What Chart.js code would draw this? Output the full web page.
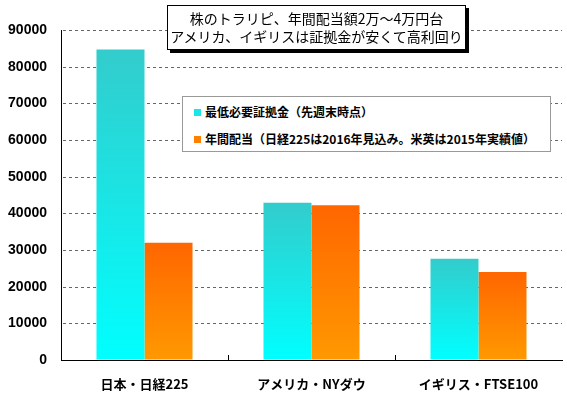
<!DOCTYPE html>
<html>
<head>
<meta charset="utf-8">
<script src="https://cdn.jsdelivr.net/npm/chart.js@4/dist/chart.umd.min.js"></script>
<style>
  html, body { margin: 0; padding: 0; background: #fff; }
  #wrap { position: relative; width: 567px; height: 399px; overflow: hidden; }
  #title {
    position: absolute; left: 167px; top: 5px; width: 297px; height: 40px;
    border: 1px solid #000; box-shadow: 3px 3px 0 #000; background: #fff;
    font-family: "Noto Sans CJK JP", sans-serif; font-size: 14px; line-height: 18px;
    color: #000; text-align: center; padding-top: 3px; box-sizing: content-box; white-space: nowrap;
  }
  #legend {
    position: absolute; left: 182px; top: 96px; width: 367px; height: 54px;
    border: 1px solid #999; background: #fff;
    font-family: "Noto Sans CJK JP", sans-serif; font-weight: bold; font-size: 12px; color: #000;
  }
  .item { position: absolute; left: 11px; height: 16px; line-height: 16px; white-space: nowrap; }
  .item i { display: inline-block; width: 7px; height: 7px; margin-right: 4px; vertical-align: 1px; }
</style>
</head>
<body>
<div id="wrap">
  <canvas id="c" width="567" height="399"></canvas>
  <div id="title"></div>
  <div id="legend"></div>
</div>
<script>
const categories = ['日本・日経225', 'アメリカ・NYダウ', 'イギリス・FTSE100'];
const marginValues = [84700, 42900, 27600];
const dividendValues = [32000, 42200, 24000];
const seriesLabels = ['最低必要証拠金（先週末時点）', '年間配当（日経225は2016年見込み。米英は2015年実績値）'];
const yTickValues = [0, 10000, 20000, 30000, 40000, 50000, 60000, 70000, 80000, 90000];
const titleLines = ['株のトラリピ、年間配当額2万～4万円台', 'アメリカ、イギリスは証拠金が安くて高利回り'];

const seriesTop = ['#33CCCC', '#FF6600'];
const seriesBottom = ['#00FFFF', '#FF9900'];
const seriesMarker = ['#1AE6E6', '#FF8000'];

document.getElementById('title').innerHTML = titleLines.map(t => '<div>' + t + '</div>').join('');
document.getElementById('legend').innerHTML = seriesLabels.map((t, i) =>
  '<div class="item" style="top:' + (i === 0 ? 7 : 34) + 'px"><i style="background:' + seriesMarker[i] + '"></i>' + t + '</div>'
).join('');

function gradFill(idx) {
  return function (ctx) {
    const chart = ctx.chart;
    const ys = chart.scales && chart.scales.y;
    if (!chart.chartArea || !ys || ctx.type !== 'data') return seriesMarker[idx];
    const top = ys.getPixelForValue(ctx.raw);
    const bot = ys.getPixelForValue(0);
    if (!isFinite(top) || !isFinite(bot) || bot - top < 1) return seriesMarker[idx];
    const g = chart.ctx.createLinearGradient(0, top, 0, bot);
    g.addColorStop(0, seriesTop[idx]);
    g.addColorStop(1, seriesBottom[idx]);
    return g;
  };
}

const dashedGrid = {
  id: 'dashedGrid',
  beforeDatasetsDraw(chart) {
    const ys = chart.scales.y, c = chart.ctx, a = chart.chartArea;
    c.save();
    c.fillStyle = '#666666';
    ys.ticks.forEach(t => {
      if (t.value === 0) return;
      const y = Math.round(ys.getPixelForValue(t.value));
      for (let x = Math.round(a.left) + 2; x < a.right; x += 6) {
        c.fillRect(x, y, Math.min(3, a.right - x), 1);
      }
    });
    c.restore();
  }
};

const xTickMarks = {
  id: 'xTickMarks',
  afterDatasetsDraw(chart) {
    const xs = chart.scales.x, c = chart.ctx, b = chart.chartArea.bottom;
    c.save();
    c.strokeStyle = '#000';
    c.lineWidth = 1;
    for (let i = 0; i < categories.length - 1; i++) {
      const x = Math.round((xs.getPixelForValue(i) + xs.getPixelForValue(i + 1)) / 2) + 0.5;
      c.beginPath();
      c.moveTo(x, b - 5);
      c.lineTo(x, b);
      c.stroke();
    }
    c.restore();
  }
};

new Chart(document.getElementById('c'), {
  type: 'bar',
  data: {
    labels: categories,
    datasets: [
      { label: seriesLabels[0], data: marginValues, backgroundColor: gradFill(0), borderWidth: 0 },
      { label: seriesLabels[1], data: dividendValues, backgroundColor: gradFill(1), borderWidth: 0 }
    ]
  },
  options: {
    responsive: false,
    animation: false,
    devicePixelRatio: 1,
    layout: { padding: { top: 30, right: 5, bottom: 0, left: 0 } },
    plugins: { legend: { display: false }, title: { display: false }, tooltip: { enabled: false } },
    datasets: { bar: { barPercentage: 1, categoryPercentage: 0.575 } },
    scales: {
      x: {
        grid: { display: true, drawOnChartArea: false, drawTicks: false },
        border: { display: true, color: '#000', width: 1 },
        ticks: {
          color: '#000', padding: 16,
          font: { family: '"Noto Sans CJK JP", sans-serif', weight: 'bold', size: 13 }
        },
        afterFit(s) { s.height = 39; }
      },
      y: {
        min: 0, max: 90000,
        afterBuildTicks(s) { s.ticks = yTickValues.map(v => ({ value: v })); },
        grid: { drawTicks: false, drawOnChartArea: false },
        border: { display: true, color: '#000', width: 1 },
        ticks: {
          color: '#000', padding: 14,
          callback: (v) => String(v),
          font: { family: '"Liberation Sans", Arial, sans-serif', weight: 'bold', size: 14 }
        },
        afterFit(s) { s.width = 61; }
      }
    }
  },
  plugins: [dashedGrid, xTickMarks]
});
</script>
</body>
</html>
